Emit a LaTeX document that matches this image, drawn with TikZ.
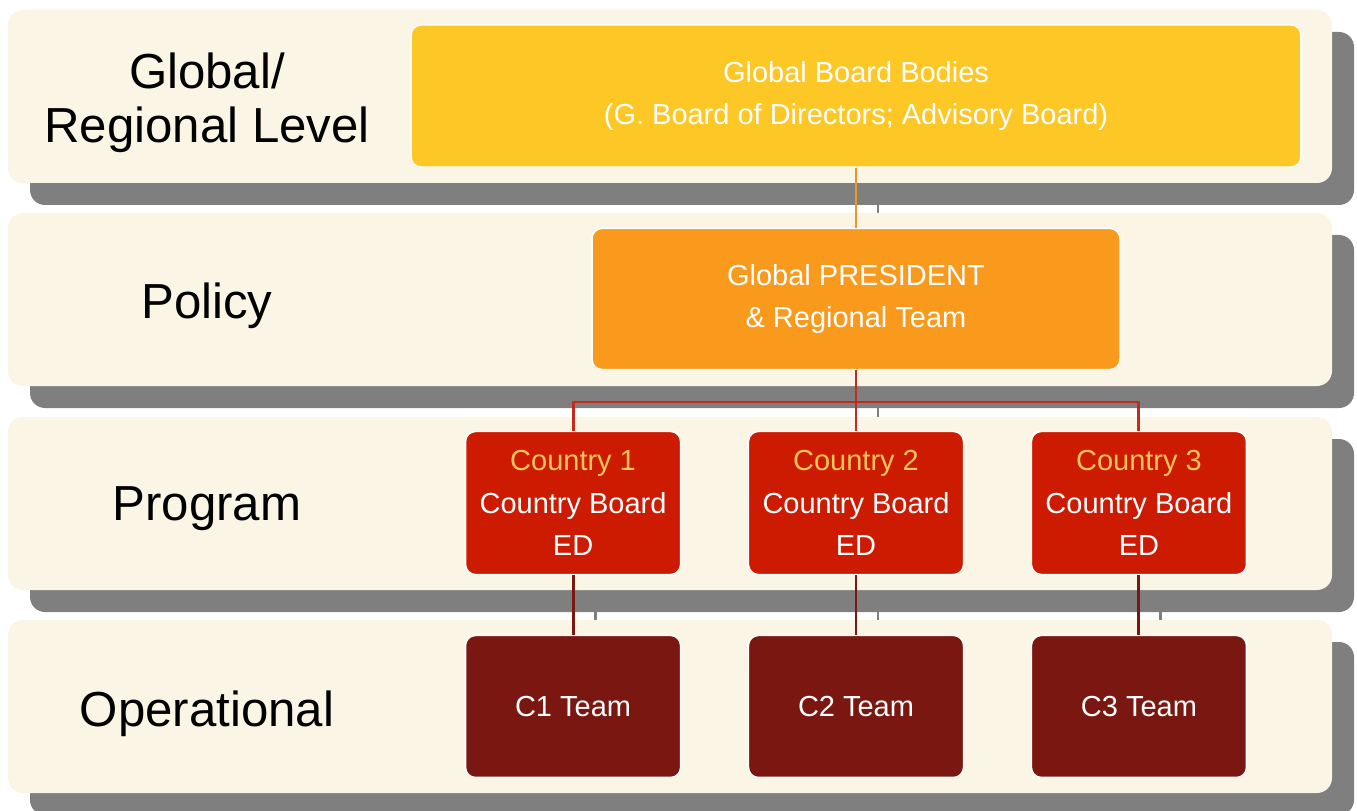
\documentclass[tikz,border=0pt]{standalone}
\usepackage{fontspec}
\setmainfont{Liberation Sans}
\usetikzlibrary{positioning,backgrounds}

\definecolor{bandcream}{HTML}{FBF5E6}
\definecolor{shadowgray}{HTML}{7F7F7F}
\definecolor{boardyellow}{HTML}{FDC725}
\definecolor{presorange}{HTML}{FA9A1C}
\definecolor{countryred}{HTML}{CC1B00}
\definecolor{teamred}{HTML}{7A1711}
\definecolor{countrytext}{HTML}{F7C35A}
\definecolor{linkorange}{HTML}{F0961E}
\definecolor{linkred}{HTML}{C62A1E}

\begin{document}
\begin{tikzpicture}
[
  x=0.02cm, y=-0.02cm,
  box/.style={rectangle, rounded corners=0.2cm, draw=white, line width=0.8pt, text=white, align=center, inner sep=0pt, font=\fontsize{16.5}{24}\selectfont},
  board/.style={box, fill=boardyellow, minimum width=17.8cm, minimum height=2.84cm},
  president/.style={box, fill=presorange, minimum width=10.56cm, minimum height=2.82cm},
  country/.style={box, fill=countryred, minimum width=4.3cm, minimum height=2.86cm},
  team/.style={box, fill=teamred, minimum width=4.3cm, minimum height=2.84cm},
  level/.style={align=center, text=black, font=\fontsize{28}{31}\selectfont},
  link/.style={line width=1.7pt},
  node distance=5.66cm,
  on grid
]
 \useasboundingbox (0,0) rectangle (1357,811);

 % level labels
 \node[level] (global) at (207,103) {Global/\\Regional Level};
 \node[level] (policy) at (207,306) {Policy};
 \node[level] (program) at (207,509) {Program};
 \node[level] (operational) at (207,714) {Operational};

 % boxes
 \node[board] (gbb) at (856,96) {Global Board Bodies\\(G. Board of Directors; Advisory Board)};
 \node[president] (gp) at (856,299) {Global PRESIDENT\\\& Regional Team};
 \node[country] (c2) at (856,503) {{\color{countrytext}Country 2}\\Country Board\\ED};
 \node[country] (c1) [left=of c2] {{\color{countrytext}Country 1}\\Country Board\\ED};
 \node[country] (c3) [right=of c2] {{\color{countrytext}Country 3}\\Country Board\\ED};
 \node[team] (t1) [below=4.07cm of c1] {C1 Team};
 \node[team] (t2) [below=4.07cm of c2] {C2 Team};
 \node[team] (t3) [below=4.07cm of c3] {C3 Team};
 \coordinate (split) at (856,402);

 % connectors
 \draw[link, linkorange] (gbb) -- (gp);
 \draw[link, linkred] (gp) -- (c2);
 \draw[link, linkred] (c1.north) |- (split) -| (c3.north);
 \path[link, draw=teamred]
   (c1) edge (t1)
   (c2) edge (t2)
   (c3) edge (t3);

 \begin{scope}[on background layer]
  % connector shadows, only the gaps show
  \begin{scope}[transform canvas={shift={(22,22)}}]
   \draw[link, shadowgray] (gbb) -- (gp) (gp) -- (c2);
   \draw[link, shadowgray] (c1) -- (t1) (c2) -- (t2) (c3) -- (t3);
  \end{scope}
  % bands
  \foreach \bandtop in {10,213,417,620} {
   \fill[shadowgray, rounded corners=0.3cm] (30,{\bandtop+22}) rectangle (1354,{\bandtop+195});
   \fill[bandcream, rounded corners=0.3cm] (8,\bandtop) rectangle (1332,{\bandtop+173});
  }
 \end{scope}
\end{tikzpicture}
\end{document}
